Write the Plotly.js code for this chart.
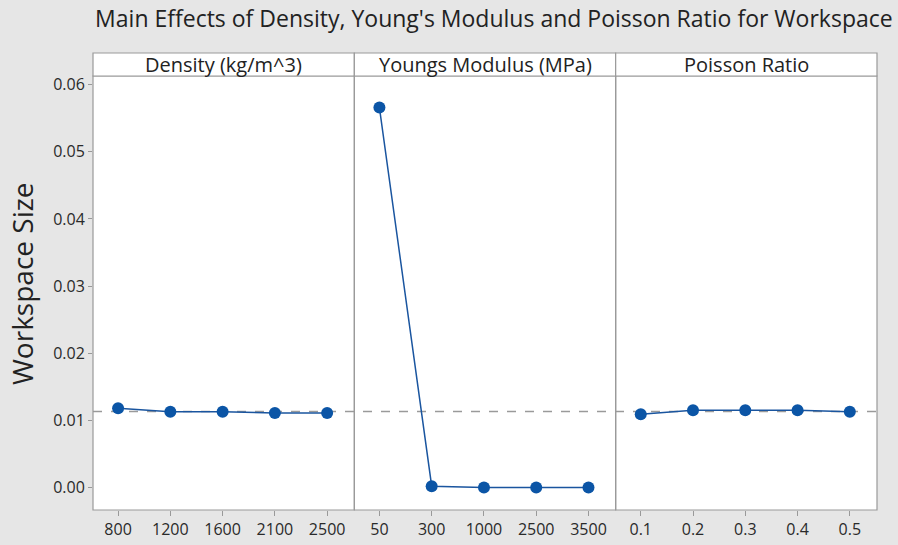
<!DOCTYPE html>
<html>
<head>
<meta charset="utf-8">
<script src="https://cdn.plot.ly/plotly-3.0.1.min.js"></script>
<style>html,body{margin:0;padding:0;background:#e6e6e6;}#chart{width:898px;height:545px;}</style>
</head>
<body>
<div id="chart"></div>
<script>
// ---- data ----
const panelTitles = ["Density (kg/m^3)", "Youngs Modulus (MPa)", "Poisson Ratio"];
const densityLevels = ["800", "1200", "1600", "2100", "2500"];
const densityMeans = [0.0118, 0.0113, 0.0113, 0.0111, 0.0111];
const youngsLevels = ["50", "300", "1000", "2500", "3500"];
const youngsMeans = [0.0566, 0.0002, 0.0000, 0.0000, 0.0000];
const poissonLevels = ["0.1", "0.2", "0.3", "0.4", "0.5"];
const poissonMeans = [0.0109, 0.0115, 0.0115, 0.0115, 0.0113];
const yTickVals = [0, 0.01, 0.02, 0.03, 0.04, 0.05, 0.06];

const levels = [densityLevels, youngsLevels, poissonLevels];
const means = [densityMeans, youngsMeans, poissonMeans];
const all = [].concat(densityMeans, youngsMeans, poissonMeans);
const grandMean = all.reduce((a, b) => a + b, 0) / all.length;

const FONT = "Open Sans, Noto Sans, sans-serif";
const blue = "#0b55a6";
const axisNames = ["x", "x2", "x3"];
const traces = levels.map((lv, i) => ({
  type: "scatter", mode: "lines+markers",
  x: lv, y: means[i], xaxis: axisNames[i], yaxis: "y",
  line: {color: "#1a559f", width: 1.5},
  marker: {color: blue, size: 12},
  showlegend: false, hoverinfo: "skip"
}));

const plotH = 434;
const headerH = 23;
const doms = [[0, 1/3], [1/3, 2/3], [2/3, 1]];
const borderCol = "#9a9a9a";

const shapes = [];
const annotations = [];
axisNames.forEach((ax, i) => {
  shapes.push({type: "rect", xref: ax + " domain", yref: "y domain", x0: 0, x1: 1, y0: 0, y1: 1,
    line: {color: borderCol, width: 1.2}, fillcolor: "rgba(0,0,0,0)", layer: "above"});
  shapes.push({type: "rect", xref: ax + " domain", yref: "y domain", x0: 0, x1: 1, y0: 1, y1: 1 + headerH / plotH,
    line: {color: borderCol, width: 1.2}, fillcolor: "#ffffff", layer: "above"});
  annotations.push({xref: ax + " domain", yref: "y domain", x: 0.5, y: 1 + headerH / plotH / 2,
    text: panelTitles[i], showarrow: false, xanchor: "center", yanchor: "middle",
    font: {family: FONT, size: 20, color: "#222"}});
});
annotations.push({xref: "paper", yref: "paper", x: -0.0906, y: 0.523, textangle: -90,
  text: "Workspace Size", showarrow: false, xanchor: "center", yanchor: "middle",
  font: {family: FONT, size: 28, color: "#222"}});
shapes.push({type: "line", xref: "paper", yref: "y", x0: 0, x1: 1, y0: grandMean, y1: grandMean,
  line: {color: "#9a9a9a", width: 1.5, dash: "dash"}, layer: "below"});

const xBase = {
  type: "category", range: [-0.48, 4.52], showgrid: false, zeroline: false,
  ticks: "outside", ticklen: 5, tickcolor: "#999", showline: false, fixedrange: true,
  tickfont: {family: FONT, size: 16, color: "#2a2a2a"}, anchor: "y"
};

const layout = {
  width: 898, height: 545,
  paper_bgcolor: "#e6e6e6", plot_bgcolor: "#ffffff",
  margin: {l: 93, r: 21, t: 76, b: 35},
  title: {text: "Main Effects of Density, Young's Modulus and Poisson Ratio for Workspace",
    x: 0.55, xanchor: "center", y: 0.966, yanchor: "middle",
    font: {family: FONT, size: 23, color: "#222"}},
  xaxis: Object.assign({}, xBase, {domain: doms[0]}),
  xaxis2: Object.assign({}, xBase, {domain: doms[1]}),
  xaxis3: Object.assign({}, xBase, {domain: doms[2]}),
  yaxis: {range: [-0.00335, 0.0613], tickvals: yTickVals, tickformat: ".2f",
    showgrid: false, zeroline: false, ticks: "outside", ticklen: 4, tickcolor: "#999",
    tickfont: {family: FONT, size: 16, color: "#2a2a2a"},
    fixedrange: true},
  shapes: shapes,
  annotations: annotations
};

Plotly.newPlot("chart", traces, layout, {displayModeBar: false, staticPlot: true});
</script>
</body>
</html>
